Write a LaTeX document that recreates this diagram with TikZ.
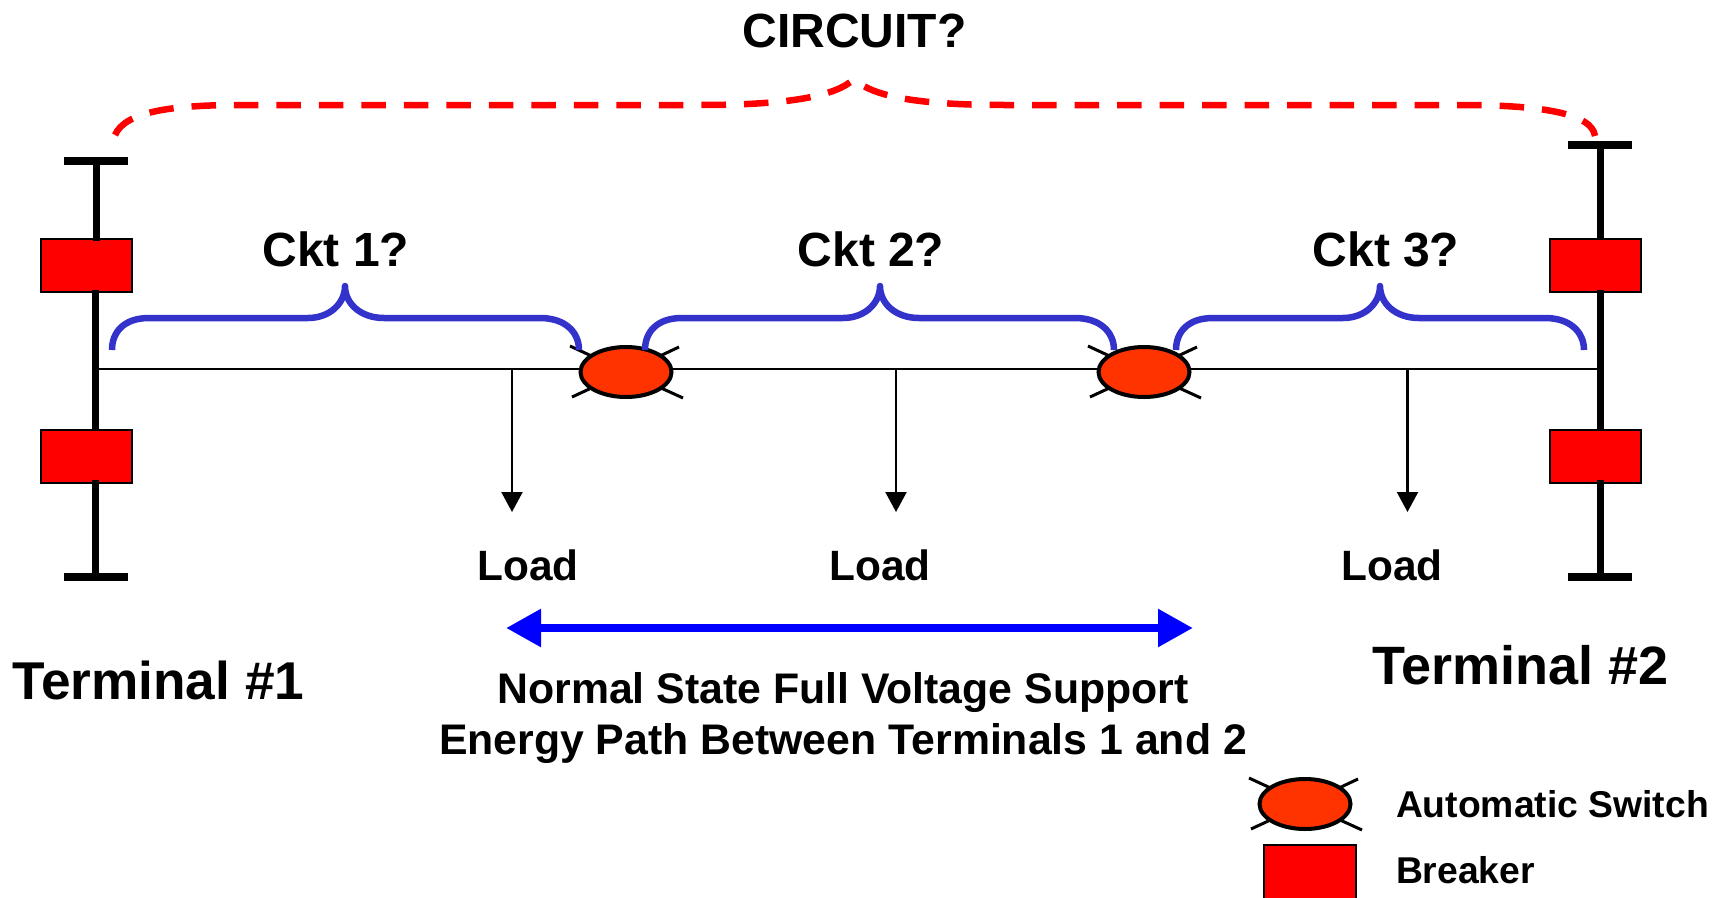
\documentclass[tikz,border=0pt]{standalone}
\usepackage{fontspec}
\setmainfont{Liberation Sans}[BoldFont={Liberation Sans Bold}]
\usetikzlibrary{arrows.meta,shapes.geometric,backgrounds}
\definecolor{swfill}{HTML}{FF3300}
\definecolor{bracecol}{HTML}{3333CC}
\tikzset{
  lbl/.style={inner sep=0pt,outer sep=0pt,font=\bfseries\fontsize{#1}{#1}\selectfont,text=black},
  breaker/.style={rectangle,draw=black,fill=red,line width=2pt,minimum width=91pt,minimum height=53pt,inner sep=0pt,outer sep=0pt},
  swnode/.style={ellipse,draw=black,fill=swfill,line width=4pt,minimum width=91pt,minimum height=50pt,inner sep=0pt,outer sep=0pt},
  leg/.style={draw=black,line width=3pt},
  bus/.style={draw=black,line width=7pt},
  buscap/.style={draw=black,line width=8pt},
  feeder/.style={draw=black,line width=2.2pt},
  loadarrow/.style={draw=black,line width=2.2pt,-{Triangle[length=20pt,width=21pt]}},
  bracepath/.style={draw=bracecol,line width=6.5pt,line join=round},
  redpath/.style={draw=red,line width=6.5pt,dash pattern=on 24.5pt off 18pt},
  flow/.style={draw=blue,line width=8.5pt,{Triangle[length=35pt,width=36pt]}-{Triangle[length=35pt,width=36pt]}}
}
\newcommand{\swsym}[3]{% name, x, y
  \node[swnode] (#1) at (#2,#3) {};
  \begin{scope}[on background layer]
    \draw[leg] (#1.center) -- +(-56,-26);
    \draw[leg] (#1.center) -- +(53,-25);
    \draw[leg] (#1.center) -- +(-54,25);
    \draw[leg] (#1.center) -- +(57,26);
  \end{scope}}
\newcommand{\ckbrace}[3]{% left, apex, right
  \draw[bracepath] (#1,350) .. controls (#1,332) and (#1+12,318) .. (#1+37,318)
    -- (#2-37,318) .. controls (#2-15,318) and (#2,303) .. (#2,286)
    .. controls (#2,303) and (#2+15,318) .. (#2+39,318)
    -- (#3-39,318) .. controls (#3-14,318) and (#3,332) .. (#3,350);
  \draw[bracecol,line width=6.5pt,line cap=round] (#2,288) -- (#2,287);}
\begin{document}
\begin{tikzpicture}[x=1pt,y=-1pt]
\useasboundingbox (0,0) rectangle (1724,897);
\begin{scope}[on background layer]
  \fill[white] (0,0) rectangle (1724,897);
\end{scope}

% red dashed brace
\draw[redpath] (115,135) .. controls (125,112) and (170,105) .. (240,105)
  -- (700,105) .. controls (790,105) and (836,96) .. (854,79)
  .. controls (872,96) and (915,105) .. (1005,105)
  -- (1460,105) .. controls (1540,105) and (1592,113) .. (1595,136);

% breakers
\node[breaker] (b1) at (86.5,265) {};
\node[breaker] (b2) at (86.5,456) {};
\node[breaker] (b3) at (1595,265) {};
\node[breaker] (b4) at (1595,456) {};

% buses
\coordinate (t1a) at (64,161); \coordinate (t1b) at (128,161);
\coordinate (t1c) at (96,161);
\coordinate (l1a) at (64,577); \coordinate (l1b) at (128,577);
\coordinate (l1c) at (95,577);
\draw[buscap] (t1a) -- (t1b);
\draw[buscap] (l1a) -- (l1b);
\draw[bus] (t1c) -- (96,241);
\draw[bus] (95,290) -- (95,431);
\draw[bus] (95,480) -- (l1c);

\coordinate (t2a) at (1568,145); \coordinate (t2b) at (1632,145);
\coordinate (t2c) at (1600,145);
\coordinate (l2a) at (1568,577); \coordinate (l2b) at (1632,577);
\coordinate (l2c) at (1600,577);
\draw[buscap] (t2a) -- (t2b);
\draw[buscap] (l2a) -- (l2b);
\draw[bus] (t2c) -- (1600,240);
\draw[bus] (1600,290) -- (1600,431);
\draw[bus] (1600,480) -- (l2c);

% switches
\swsym{s1}{626}{372}
\swsym{s2}{1144}{372}
\swsym{s3}{1305}{804}
\node[breaker,minimum width=92pt,minimum height=54pt] (b5) at (1310,872) {};

% main line
\coordinate (j0) at (96,369);
\coordinate (j1) at (1600,369);
\coordinate (f1) at (512,369); \coordinate (f2) at (896,369); \coordinate (f3) at (1407.5,369);
\coordinate (a1) at (512,512); \coordinate (a2) at (896,512); \coordinate (a3) at (1407.5,512);
\begin{scope}[on background layer]
  \draw[feeder] (j0) -- (j1);
\end{scope}
\draw[loadarrow] (f1) -- (a1);
\draw[loadarrow] (f2) -- (a2);
\draw[loadarrow] (f3) -- (a3);

% blue braces
\ckbrace{112}{345}{579}
\ckbrace{645}{880}{1114}
\ckbrace{1176}{1380}{1584}

% flow arrow
\coordinate (fa) at (506,628); \coordinate (fb) at (1193,628);
\draw[flow] (fa) -- (fb);

% text
\node[lbl=48] (tc) at (854.5,31) {CIRCUIT?};
\node[lbl=48] (t1) at (336,249.5) {Ckt 1?};
\node[lbl=48] (t2) at (871,249.5) {Ckt 2?};
\node[lbl=48] (t3) at (1386,249.5) {Ckt 3?};
\node[lbl=42.4] (ld1) at (528,565) {Load};
\node[lbl=42.4] (ld2) at (880,565) {Load};
\node[lbl=42.4] (ld3) at (1392,565) {Load};
\node[lbl=53.2,anchor=west] (tm1) at (12.5,680) {Terminal \#1};
\node[lbl=54,anchor=west] (tm2) at (1372,665) {Terminal \#2};
\node[lbl=42.8] (n1) at (843,693) {Normal State Full Voltage Support};
\node[lbl=42.8] (n2) at (843,744) {Energy Path Between Terminals 1 and 2};
\node[lbl=37.3,anchor=west] (la) at (1396,804) {Automatic Switch};
\node[lbl=37.3,anchor=west] (lb) at (1396,870.5) {Breaker};
\end{tikzpicture}
\end{document}
